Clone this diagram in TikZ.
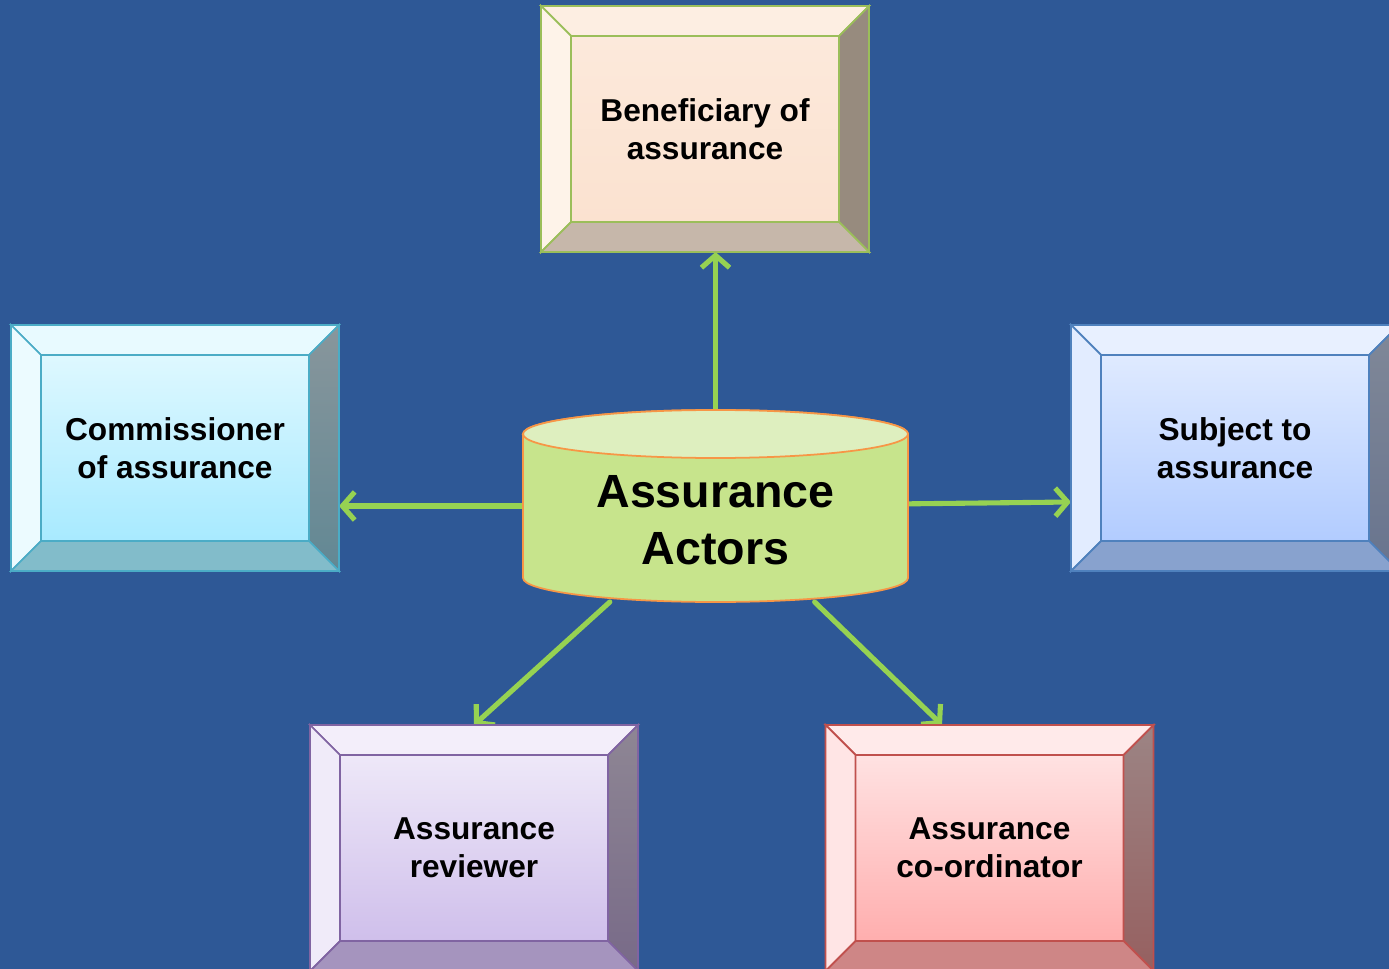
\documentclass[tikz,border=0pt]{standalone}
\usepackage{fontspec}
\setmainfont{Liberation Sans}
\usetikzlibrary{arrows.meta}
\definecolor{bgblue}{RGB}{46,88,150}
\definecolor{arrowgreen}{RGB}{150,210,82}
\definecolor{cylbody}{RGB}{199,228,140}
\definecolor{cyltop}{RGB}{222,239,191}
\definecolor{cylline}{RGB}{247,150,70}
% beneficiary
\definecolor{beneLine}{RGB}{155,190,90}
\definecolor{beneInA}{RGB}{252,233,219}
\definecolor{beneInB}{RGB}{251,226,208}
\definecolor{beneTop}{RGB}{253,238,226}
\definecolor{beneLeft}{RGB}{254,243,233}
\definecolor{beneRight}{RGB}{151,139,126}
\definecolor{beneBot}{RGB}{198,183,170}
% commissioner
\definecolor{commLine}{RGB}{75,172,198}
\definecolor{commInA}{RGB}{222,248,255}
\definecolor{commInB}{RGB}{168,234,255}
\definecolor{commTop}{RGB}{232,250,255}
\definecolor{commLeft}{RGB}{236,251,255}
\definecolor{commRightA}{RGB}{136,150,156}
\definecolor{commRightB}{RGB}{98,136,148}
\definecolor{commBot}{RGB}{130,188,202}
% subject
\definecolor{subjLine}{RGB}{79,129,189}
\definecolor{subjInA}{RGB}{223,234,255}
\definecolor{subjInB}{RGB}{178,204,255}
\definecolor{subjTop}{RGB}{232,240,255}
\definecolor{subjLeft}{RGB}{226,236,255}
\definecolor{subjRightA}{RGB}{128,136,152}
\definecolor{subjRightB}{RGB}{104,116,142}
\definecolor{subjBot}{RGB}{136,162,206}
% reviewer
\definecolor{revLine}{RGB}{128,100,162}
\definecolor{revInA}{RGB}{238,232,248}
\definecolor{revInB}{RGB}{207,191,235}
\definecolor{revTop}{RGB}{243,238,250}
\definecolor{revLeft}{RGB}{240,235,249}
\definecolor{revRightA}{RGB}{142,134,148}
\definecolor{revRightB}{RGB}{120,106,136}
\definecolor{revBot}{RGB}{165,148,190}
% co-ordinator
\definecolor{coLine}{RGB}{192,80,77}
\definecolor{coInA}{RGB}{255,226,226}
\definecolor{coInB}{RGB}{255,174,174}
\definecolor{coTop}{RGB}{255,234,234}
\definecolor{coLeft}{RGB}{255,229,229}
\definecolor{coRightA}{RGB}{156,132,132}
\definecolor{coRightB}{RGB}{150,96,96}
\definecolor{coBot}{RGB}{206,134,134}

\pgfdeclarelayer{background}
\pgfsetlayers{background,main}

% bevel frame round an actor node
\newcommand{\bevel}[6]{%
  \path[line width=1pt,draw=#2,#3] (#1.north west) -- (#1.north east)
    -- ([shift={(-0.6,-0.6)}]#1.north east) -- ([shift={(0.6,-0.6)}]#1.north west) -- cycle;
  \path[line width=1pt,draw=#2,#4] (#1.north west) -- ([shift={(0.6,-0.6)}]#1.north west)
    -- ([shift={(0.6,0.6)}]#1.south west) -- (#1.south west) -- cycle;
  \path[line width=1pt,draw=#2,#5] (#1.north east) -- ([shift={(-0.6,-0.6)}]#1.north east)
    -- ([shift={(-0.6,0.6)}]#1.south east) -- (#1.south east) -- cycle;
  \path[line width=1pt,draw=#2,#6] (#1.south west) -- ([shift={(0.6,0.6)}]#1.south west)
    -- ([shift={(-0.6,0.6)}]#1.south east) -- (#1.south east) -- cycle;
}

\begin{document}
\begin{tikzpicture}[->,>={Straight Barb[length=7pt,width=16pt]}]
  \tikzstyle{actor}=[rectangle, minimum width=5.36cm, minimum height=3.72cm,
outer sep=0.6cm, line width=1pt, align=center, font=\fontsize{18pt}{21.5pt}\selectfont\bfseries]
  \tikzstyle{hub}=[rectangle, minimum width=7.7cm, minimum height=3.84cm, inner sep=0pt, outer sep=0pt]
  \tikzstyle{link}=[draw=arrowgreen, line width=2.9pt, line cap=round]
  \useasboundingbox (0,0) rectangle (27.78,-19.38);
  \clip (0,0) rectangle (27.78,-19.38);

  \node[actor, draw=beneLine, top color=beneInA, bottom color=beneInB] (bene) at (14.10,-2.58) {Beneficiary of\\assurance};
  \node[actor, draw=commLine, top color=commInA, bottom color=commInB] (comm) at (3.50,-8.96) {Commissioner\\of assurance};
  \node[actor, draw=subjLine, top color=subjInA, bottom color=subjInB] (subj) at (24.70,-8.96) {Subject to\\assurance};
  \node[actor, draw=revLine, top color=revInA, bottom color=revInB] (rev) at (9.48,-16.96) {Assurance\\reviewer};
  \node[actor, draw=coLine, top color=coInA, bottom color=coInB] (coord) at (19.79,-16.96) {Assurance\\co-ordinator};

  \bevel{bene}{beneLine}{fill=beneTop}{fill=beneLeft}{fill=beneRight}{fill=beneBot}
  \bevel{comm}{commLine}{fill=commTop}{fill=commLeft}{top color=commRightA,bottom color=commRightB}{fill=commBot}
  \bevel{subj}{subjLine}{fill=subjTop}{fill=subjLeft}{top color=subjRightA,bottom color=subjRightB}{fill=subjBot}
  \bevel{rev}{revLine}{fill=revTop}{fill=revLeft}{top color=revRightA,bottom color=revRightB}{fill=revBot}
  \bevel{coord}{coLine}{fill=coTop}{fill=coLeft}{top color=coRightA,bottom color=coRightB}{fill=coBot}

  \node[hub, label={[font=\fontsize{26.5pt}{32.4pt}\selectfont\bfseries, align=center, yshift=-0.28cm]center:{Assurance\\Actors}}] (actors) at (14.31,-10.12) {};

  \begin{pgfonlayer}{background}
  \fill[bgblue] (0,0) rectangle (27.78,-19.38);
  \draw[link] (actors) -- (actors |- bene.south);
  \draw[link] (actors) -- (actors -| comm.east);
  \draw[link] (actors) -- ([yshift=0.08cm]actors -| subj.west);
  \draw[link] (actors) -- (rev.north);
  \draw[link] (actors) -- ([xshift=-0.95cm]coord.north);
  % cylinder
  \filldraw[-, fill=cylbody, draw=cylline, line width=1pt] ([yshift=-0.48cm]actors.north west)
    -- ([yshift=0.48cm]actors.south west) arc[start angle=180, end angle=360, x radius=3.85cm, y radius=0.48cm]
    -- ([yshift=-0.48cm]actors.north east) arc[start angle=0, end angle=180, x radius=3.85cm, y radius=0.48cm] -- cycle;
  \filldraw[-, fill=cyltop, draw=cylline, line width=1pt] ([yshift=-0.48cm]actors.north) ellipse[x radius=3.85cm, y radius=0.48cm];
  \end{pgfonlayer}
\end{tikzpicture}
\end{document}
